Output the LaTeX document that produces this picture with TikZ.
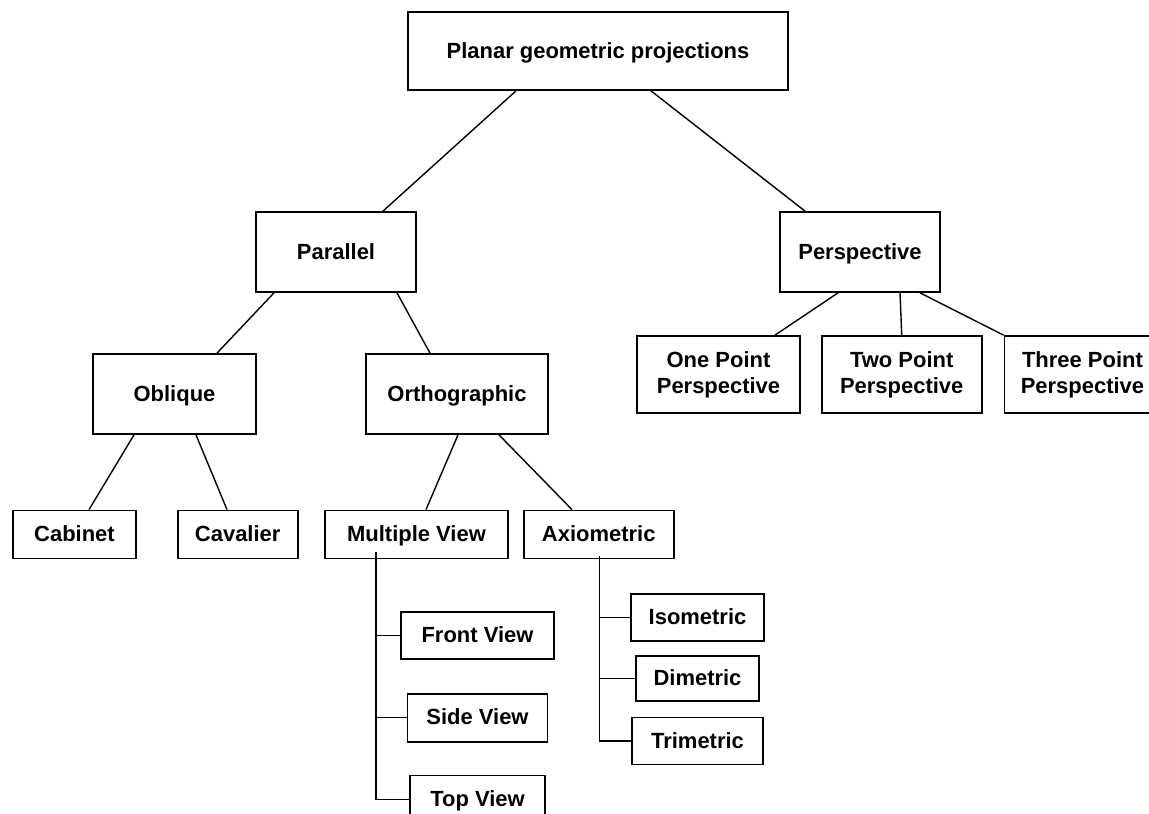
\documentclass[tikz,border=0pt]{standalone}
\usepackage{fontspec}
\setmainfont{Liberation Sans}
\usetikzlibrary{positioning,calc}

\begin{document}
\begin{tikzpicture}[
  x=0.02cm, y=-0.02cm,
  blk/.style={draw, line width=1pt, inner sep=0pt, align=center,
              font=\fontsize{12.5}{15}\selectfont\bfseries},
  line1/.style={blk, text height=1.95ex, text depth=0.4ex},
  big/.style={line1, minimum height=1.6cm},
  small/.style={line1, minimum height=0.96cm},
  lnk/.style={line width=0.8pt},
]
  \path[use as bounding box, fill=white] (0,0) rectangle (1149,814);

  % upper levels
  \node[line1, minimum width=7.6cm, minimum height=1.56cm] (pgp) at (598,51) {Planar geometric projections};
  \node[big, minimum width=3.2cm] (par) at (336,252) {Parallel};
  \node[big, minimum width=3.2cm] (persp) at (860,252) {Perspective};
  \node[big, minimum width=3.26cm] (obl) at (174.5,394) {Oblique};
  \node[big, minimum width=3.64cm] (ortho) at (457,394) {Orthographic};

  % perspective kinds
  \node[blk, minimum width=3.26cm, minimum height=1.54cm] (one) at (718.5,374.5) {One Point\\Perspective};
  \node[blk, minimum width=3.2cm, minimum height=1.54cm, right=0.4cm of one] (two) {Two Point\\Perspective};
  \node[blk, minimum width=3.12cm, minimum height=1.54cm, right=0.42cm of two] (three) {Three Point\\Perspective};

  % oblique and orthographic kinds
  \node[small, minimum width=2.46cm] (cab) at (74.5,534.5) {Cabinet};
  \node[small, minimum width=2.4cm, right=0.8cm of cab] (cav) {Cavalier};
  \node[small, minimum width=3.66cm] (mv) at (416.5,534.5) {Multiple View};
  \node[small, minimum width=3.0cm, right=0.28cm of mv] (axio) {Axiometric};

  % views
  \node[small, minimum width=3.06cm, minimum height=0.94cm] (front) at (477.5,635.5) {Front View};
  \node[small, minimum width=2.8cm, below=0.66cm of front] (side) {Side View};
  \node[small, minimum width=2.7cm, below=0.64cm of side] (topv) {Top View};

  % axiometric kinds
  \node[small, minimum width=2.66cm, minimum height=0.94cm] (iso) at (697.5,617.5) {Isometric};
  \node[small, minimum width=2.46cm, minimum height=0.9cm, below=0.26cm of iso] (dim) {Dimetric};
  \node[small, minimum width=2.62cm, minimum height=0.94cm, below=0.3cm of dim] (tri) {Trimetric};

  % tree links
  \draw[lnk] (pgp.south -| 516,0) -- (par.north -| 383,0);
  \draw[lnk] (pgp.south -| 651,0) -- (persp.north -| 805,0);
  \draw[lnk] (par.south -| 274,0) -- (obl.north -| 217,0);
  \draw[lnk] (par.south -| 397,0) -- (ortho.north -| 430,0);
  \draw[lnk] (persp.south -| 838,0) -- (one.north -| 775,0);
  \draw[lnk] (persp.south -| 900,0) -- (two.north);
  \draw[lnk] (persp.south -| 920,0) -- (three.north west);
  \draw[lnk] (obl.south -| 134,0) -- (cab.north -| 89,0);
  \draw[lnk] (obl.south -| 196,0) -- (cav.north -| 227,0);
  \draw[lnk] (ortho.south -| 458,0) -- (mv.north -| 426,0);
  \draw[lnk] (ortho.south -| 499,0) -- (axio.north -| 572,0);

  % bus lines
  \coordinate (mvbus) at ($(mv.south)+(-40.5,-7)$);
  \coordinate (axbus) at ($(axio.south)+(1,-3)$);
  \draw[lnk] (mvbus) |- (topv.west);
  \foreach \c in {front,side}
    \draw[lnk] (\c.west) -- (\c.west -| mvbus);
  \draw[lnk] (axbus) |- (tri.west);
  \foreach \c in {iso,dim}
    \draw[lnk] (\c.west) -- (\c.west -| axbus);
\end{tikzpicture}
\end{document}
